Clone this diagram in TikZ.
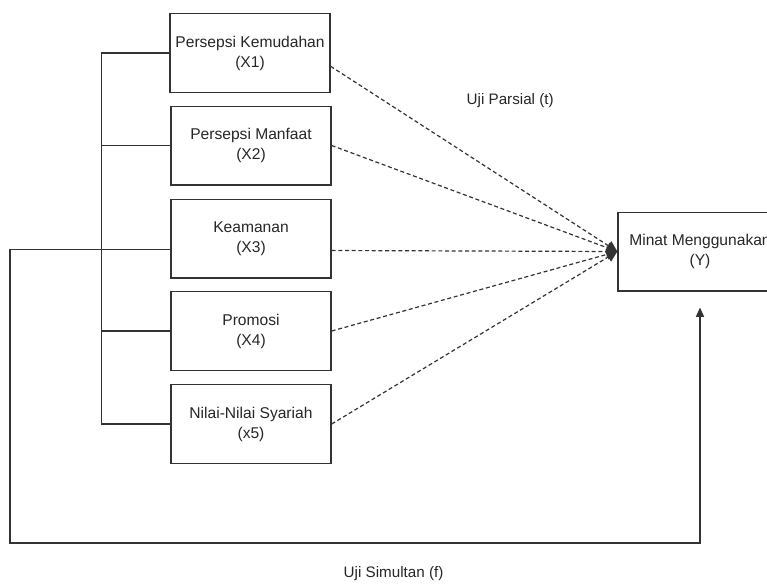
\documentclass[tikz,border=0pt]{standalone}
\usepackage{fontspec}
\setmainfont{Liberation Sans}
\usepackage{xcolor}
\definecolor{lineGray}{gray}{0.2}
\definecolor{textGray}{gray}{0.15}
\usetikzlibrary{arrows.meta}

\begin{document}
\begin{tikzpicture}[x=0.75pt, y=-0.75pt,
    varbox/.style={draw=lineGray, line width=1pt, minimum width=120pt, minimum height=59pt,
      align=center, inner sep=0pt, text=textGray, font=\fontsize{11.7}{15}\selectfont},
    parsial/.style={draw=lineGray, line width=0.9pt, dash pattern=on 3pt off 2pt,
      -{Triangle[length=8pt, width=8pt]}},
    simultan/.style={draw=lineGray, line width=1pt, -{Triangle[length=7pt, width=6pt]}}]
  \useasboundingbox (0,0) rectangle (767,586);
  % ---- independent variables ----
  \node[varbox] (b1) at (250,53) {Persepsi Kemudahan\\(X1)};
  \node[varbox] (b2) at (251,145.5) {Persepsi Manfaat\\(X2)};
  \node[varbox] (b3) at (251,238.5) {Keamanan\\(X3)};
  \node[varbox] (b4) at (251,331) {Promosi\\(X4)};
  \node[varbox] (b5) at (251,424) {Nilai-Nilai Syariah\\(x5)};
  % ---- dependent variable ----
  \node[varbox, minimum width=123pt] (y) at (700,251.5) {Minat Menggunakan\\(Y)};
  % ---- bus on the left ----
  \draw[lineGray, line width=1pt] (b1.west) -- ++(-68,0) |- (b5.west);
  \foreach \b in {b2,b4}
    \draw[lineGray, line width=1pt] (\b.west) -- ++(-69,0);
  % ---- partial tests ----
  \draw[parsial] ([yshift=-10pt]b1.east) -- (y.west);
  \draw[parsial] (b2.east) -- (y.west);
  \draw[parsial] ([yshift=-9pt]b3.east) -- (y.west);
  \draw[parsial] (b4.east) -- (y.west);
  \draw[parsial] (b5.east) -- (y.west);
  \node[anchor=west, text=textGray, font=\fontsize{11.4}{14}\selectfont] (tpar) at (462,101) {Uji Parsial (t)};
  % ---- simultaneous test ----
  \coordinate (yin) at ([yshift=-12pt]y.south);
  \draw[simultan] ([yshift=-8pt]b3.west) -| (10,543) -| (yin);
  \node[anchor=west, text=textGray, font=\fontsize{11.4}{14}\selectfont] (tsim) at (339,574) {Uji Simultan (f)};
\end{tikzpicture}
\end{document}
